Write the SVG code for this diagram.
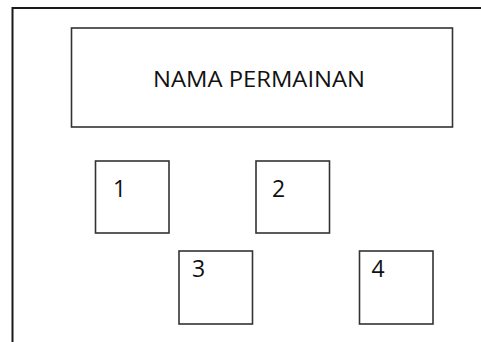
<svg xmlns="http://www.w3.org/2000/svg" width="481" height="342" viewBox="0 0 481 342">
<style>
.box{fill:#fff;stroke:#333;stroke-width:1.6}
.lbl{font-family:"Open Sans","Liberation Sans",sans-serif;fill:#111}
</style>
<rect width="481" height="342" fill="#fff"/>
<g id="frame"><path d="M12.5 342 V8 H481" fill="none" stroke="#1a1a1a" stroke-width="2"/></g>
<g id="title"><rect class="box" x="71.5" y="28" width="381" height="99"/>
<text class="lbl" x="153" y="87" font-size="22" textLength="212" lengthAdjust="spacingAndGlyphs">NAMA PERMAINAN</text></g>
<g id="n1"><rect class="box" x="95.5" y="161" width="73.5" height="72"/><text class="lbl" x="113" y="197" font-size="23">1</text></g>
<g id="n2"><rect class="box" x="256" y="161" width="73.5" height="72"/><text class="lbl" x="272" y="197" font-size="23">2</text></g>
<g id="n3"><rect class="box" x="179" y="251" width="73.5" height="73"/><text class="lbl" x="192" y="277" font-size="23">3</text></g>
<g id="n4"><rect class="box" x="359.5" y="251" width="73.5" height="73"/><text class="lbl" x="371.5" y="277" font-size="23">4</text></g>
<g id="connectors"/>
</svg>
